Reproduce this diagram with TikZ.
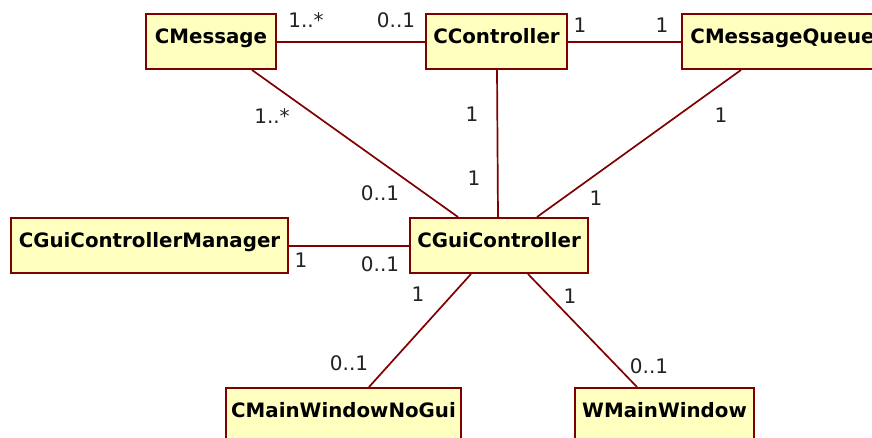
\documentclass[tikz,border=0pt]{standalone}
\usepackage{fontspec}
\setmainfont{DejaVu Sans}
\definecolor{umlline}{HTML}{800000}
\definecolor{umlfill}{HTML}{FFFFC0}
\definecolor{multtext}{HTML}{222222}
\tikzset{
  classbox/.style={draw=umlline, line width=2pt, fill=umlfill, anchor=north west,
    minimum height=55pt, inner sep=0pt, text height=16pt, text depth=12pt,
    font=\fontsize{19.8pt}{22pt}\selectfont\bfseries},
  assoc/.style={draw=umlline, line width=1.7pt},
  mult/.style={anchor=base, inner sep=0pt, text=multtext,
    font=\fontsize{20pt}{22pt}\selectfont}
}
\begin{document}
\begin{tikzpicture}[x=1pt,y=-1pt]
\useasboundingbox (0,0) rectangle (872,438);
\clip (0,0) rectangle (872,438);

% classes
\node[classbox, minimum width=130pt] (cmsg)   at (145,13)  {CMessage};
\node[classbox, minimum width=141pt] (cctrl)  at (425,13)  {CController};
\node[classbox, minimum width=201pt] (cqueue) at (681,13)  {CMessageQueue};
\node[classbox, minimum width=277pt] (cmgr)   at (10,217)  {CGuiControllerManager};
\node[classbox, minimum width=178pt] (cgui)   at (409,217) {CGuiController};
\node[classbox, minimum width=235pt] (cnogui) at (225,387) {CMainWindowNoGui};
\node[classbox, minimum width=179pt] (wmain)  at (574,387) {WMainWindow};

% associations (horizontal ones nudged onto whole pixel rows)
\draw[assoc] ([yshift=-0.5pt]cmsg.east) -- ([yshift=-0.5pt]cctrl.west);
\draw[assoc] ([yshift=-0.5pt]cctrl.east) -- ([yshift=-0.5pt]cqueue.west);
\draw[assoc] ([xshift=107pt]cmsg.south west) -- ([xshift=49pt]cgui.north west);
\draw[assoc] ([xshift=72pt]cctrl.south west) -- ([xshift=89pt]cgui.north west);
\draw[assoc] ([xshift=60pt]cqueue.south west) -- ([xshift=128pt]cgui.north west);
\draw[assoc] ([yshift=-0.5pt]cmgr.east) -- ([yshift=-0.5pt]cgui.west);
\draw[assoc] ([xshift=62pt]cgui.south west) -- ([xshift=144pt]cnogui.north west);
\draw[assoc] ([xshift=119pt]cgui.south west) -- ([xshift=63pt]wmain.north west);

% multiplicities
\node[mult] (m1) at (306,28)  {1..*};
\node[mult] (m2) at (396,28)  {0..1};
\node[mult] (m3) at (580,33)  {1};
\node[mult] (m4) at (662,33)  {1};
\node[mult] (m5) at (272,124) {1..*};
\node[mult] (m6) at (380,201) {0..1};
\node[mult] (m7) at (472,122) {1};
\node[mult] (m8) at (474,186) {1};
\node[mult] (m9) at (721,123) {1};
\node[mult] (m10) at (596,206) {1};
\node[mult] (m11) at (301,268) {1};
\node[mult] (m12) at (380,271) {0..1};
\node[mult] (m13) at (418,301) {1};
\node[mult] (m14) at (570,303) {1};
\node[mult] (m15) at (349,370) {0..1};
\node[mult] (m16) at (649,373) {0..1};
\end{tikzpicture}
\end{document}
